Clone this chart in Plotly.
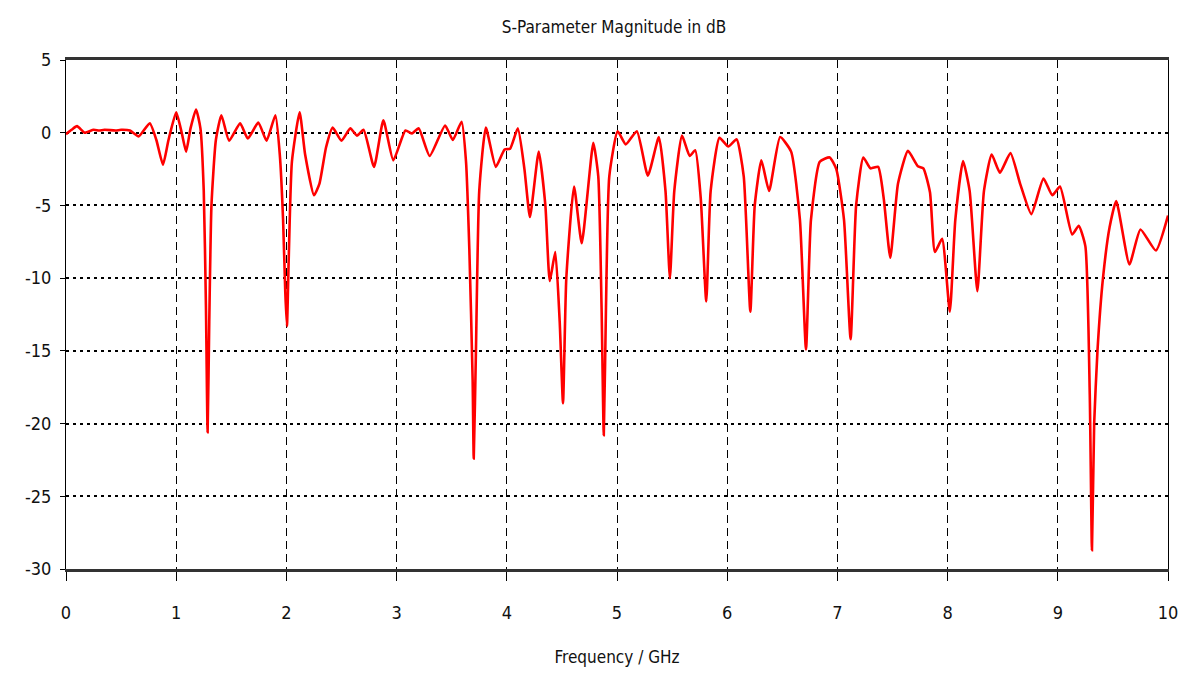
import plotly.graph_objects as go

freq_ghz = [
    0.00, 0.05, 0.10, 0.17, 0.25, 0.30, 0.35, 0.45, 0.50, 0.58, 0.66, 0.76, 0.82, 0.88, 0.93,
    1.00, 1.05, 1.09, 1.13, 1.18, 1.22, 1.25, 1.27, 1.285, 1.30, 1.32, 1.36, 1.41, 1.48, 1.58,
    1.65, 1.745, 1.82, 1.90, 1.94, 1.97, 1.99, 2.005, 2.02, 2.05, 2.12, 2.17, 2.25, 2.30, 2.36,
    2.42, 2.50, 2.58, 2.64, 2.70, 2.795, 2.88, 2.97, 3.08, 3.14, 3.20, 3.30, 3.44, 3.51, 3.59,
    3.63, 3.66, 3.69, 3.70, 3.72, 3.75, 3.81, 3.90, 3.98, 4.03, 4.10, 4.16, 4.21, 4.29, 4.35,
    4.39, 4.44, 4.48, 4.51, 4.54, 4.61, 4.68, 4.785, 4.83, 4.86, 4.88, 4.90, 4.93, 5.006, 5.08,
    5.18, 5.28, 5.38, 5.44, 5.48, 5.52, 5.59, 5.66, 5.71, 5.76, 5.81, 5.85, 5.93, 6.01, 6.085,
    6.15, 6.21, 6.25, 6.31, 6.38, 6.48, 6.58, 6.66, 6.715, 6.76, 6.84, 6.93, 6.99, 7.06, 7.12,
    7.17, 7.235, 7.30, 7.37, 7.42, 7.48, 7.55, 7.64, 7.73, 7.78, 7.84, 7.885, 7.95, 8.02, 8.07,
    8.14, 8.20, 8.27, 8.33, 8.40, 8.475, 8.57, 8.66, 8.76, 8.87, 8.95, 9.02, 9.13, 9.19, 9.25,
    9.29, 9.31, 9.33, 9.36, 9.41, 9.47, 9.53, 9.65, 9.75, 9.89, 10.0,
]

s_db = [
    -0.1, 0.2, 0.45, 0.0, 0.2, 0.15, 0.2, 0.15, 0.2, 0.15, -0.25, 0.65, -0.5, -2.2, -0.5,
    1.4, 0.0, -1.3, 0.3, 1.6, 0.3, -4.0, -12.0, -20.6, -13.0, -5.0, -0.5, 1.2, -0.55, 0.65,
    -0.4, 0.7, -0.55, 1.2, -1.5, -6.0, -11.0, -13.3, -9.0, -2.0, 1.4, -1.5, -4.3, -3.5, -1.0,
    0.35, -0.55, 0.3, -0.2, 0.2, -2.35, 0.85, -1.9, 0.15, -0.05, 0.3, -1.6, 0.5, -0.5, 0.75,
    -2.0, -8.0, -17.0, -22.4, -15.0, -4.0, 0.35, -2.35, -1.15, -1.1, 0.3, -2.5, -5.8, -1.3, -5.0,
    -10.2, -8.2, -13.0, -18.6, -10.0, -3.7, -7.6, -0.7, -3.0, -12.0, -20.8, -12.0, -3.0, 0.1, -0.8,
    0.1, -2.95, -0.3, -4.0, -10.0, -4.0, -0.2, -1.6, -1.2, -4.5, -11.6, -4.0, -0.35, -0.95, -0.45,
    -3.0, -12.3, -5.0, -1.9, -4.0, -0.3, -1.3, -6.0, -14.9, -6.0, -2.0, -1.7, -2.5, -6.0, -14.2,
    -5.0, -1.7, -2.45, -2.35, -4.5, -8.6, -3.5, -1.25, -2.3, -2.45, -4.1, -8.2, -7.3, -12.3, -6.0,
    -1.95, -4.0, -10.9, -4.0, -1.5, -2.75, -1.4, -3.55, -5.6, -3.15, -4.3, -3.7, -7.0, -6.4, -7.8,
    -18.0, -28.7, -20.0, -15.0, -10.0, -6.5, -4.7, -9.05, -6.65, -8.1, -5.7,
]

x_ticks = [0, 1, 2, 3, 4, 5, 6, 7, 8, 9, 10]
y_ticks = [5, 0, -5, -10, -15, -20, -25, -30]

FONT = "DejaVu Sans Condensed, Liberation Sans Narrow, Arial Narrow, sans-serif"

fig = go.Figure()
fig.add_trace(go.Scatter(
    x=freq_ghz, y=s_db, mode="lines",
    line=dict(color="#ff0000", width=2.6, shape="spline", smoothing=0.5),
    showlegend=False,
))

fig.update_layout(
    width=1190, height=677,
    margin=dict(l=66, r=22, t=60, b=108, autoexpand=False),
    paper_bgcolor="white", plot_bgcolor="white",
    font=dict(family=FONT, size=18, color="#111111"),
    title=dict(text="S-Parameter Magnitude in dB", x=0.516, xanchor="center",
               y=0.96, yanchor="middle", font=dict(family=FONT, size=17, color="#111111")),
)

fig.update_xaxes(
    range=[0, 10], tickvals=x_ticks, ticktext=[str(v) for v in x_ticks],
    showline=True, linecolor="#333333", linewidth=3, mirror=True,
    showgrid=True, gridcolor="black", gridwidth=1, griddash="8px,5px",
    ticks="outside", ticklen=9, tickcolor="black", tickwidth=1,
    ticklabelstandoff=16, zeroline=False, automargin=False,
    title=dict(text="Frequency / GHz", standoff=30, font=dict(family=FONT, size=17)),
)
fig.update_yaxes(
    range=[-30, 5], tickvals=y_ticks, ticktext=[str(v) for v in y_ticks],
    showline=True, linecolor="black", linewidth=1, mirror=True,
    showgrid=True, gridcolor="black", gridwidth=2, griddash="3px,4px",
    ticks="outside", ticklen=5, tickcolor="black",
    ticklabelstandoff=5, zeroline=False, automargin=False,
)

fig.write_html("out.html", config={"displayModeBar": False},
               post_script="document.body.style.margin='0';")
